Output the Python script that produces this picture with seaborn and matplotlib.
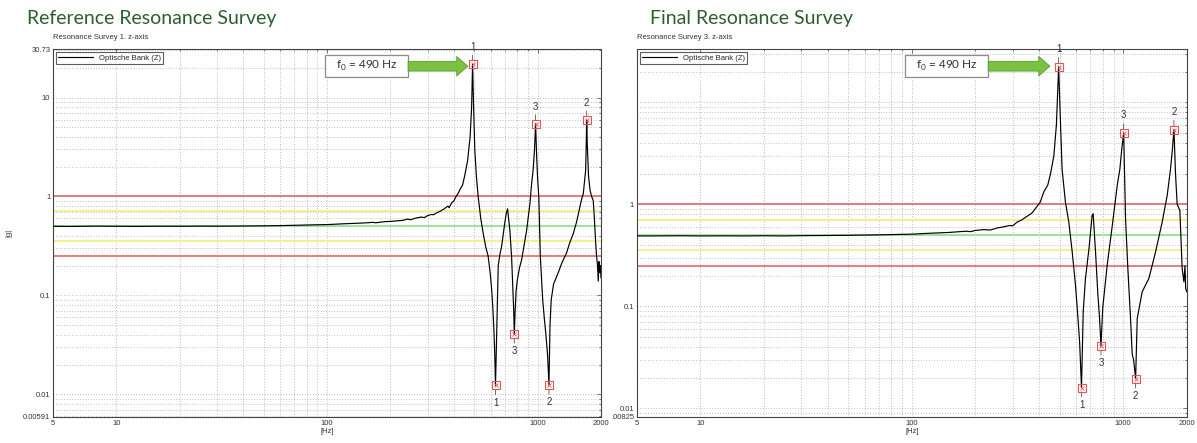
import numpy as np
import pandas as pd
import seaborn as sns
import matplotlib.pyplot as plt
from matplotlib.patches import Rectangle
from matplotlib.ticker import FixedLocator, FixedFormatter, LogLocator, NullFormatter

# --- survey 1 (reference) ---
ref_freq = [5, 6, 8, 10, 13, 16, 20, 25, 30, 40, 50, 60, 70, 80, 90, 100, 120, 150, 165, 170,
            180, 190, 200, 215, 230, 240, 250, 260, 280, 290, 300, 315, 320, 330, 345, 360, 375,
            380, 390, 400, 410, 420, 430, 440, 450, 465, 478, 486, 491, 496, 503, 512, 522,
            537, 552, 567, 582, 595, 604, 612, 620, 626, 631, 637, 643, 650, 662, 674, 687, 699,
            710, 720, 728, 738, 752, 762, 770, 775, 782, 790, 800, 820, 840, 862, 886, 905, 919,
            935, 953, 966, 978, 990, 1000, 1013, 1022, 1030, 1045, 1057, 1075, 1095, 1115, 1132,
            1145, 1160, 1190, 1231, 1253, 1300, 1373, 1420, 1476, 1530, 1588, 1620, 1647, 1670,
            1690, 1700, 1710, 1720, 1745, 1775, 1805, 1837, 1860, 1885, 1905, 1925, 1941, 1955,
            1970, 1985, 2000]
ref_amp = [0.50, 0.498, 0.502, 0.50, 0.499, 0.501, 0.50, 0.502, 0.501, 0.503, 0.505, 0.508,
           0.512, 0.515, 0.518, 0.52, 0.53, 0.54, 0.548, 0.542, 0.55, 0.558, 0.56, 0.568, 0.575,
           0.59, 0.583, 0.60, 0.62, 0.612, 0.64, 0.66, 0.652, 0.68, 0.71, 0.75, 0.80, 0.77,
           0.86, 0.90, 1.0, 1.08, 1.2, 1.3, 1.6, 2.3, 4.0, 8.0, 21.7, 9.0, 3.0, 1.6, 1.0,
           0.6, 0.42, 0.31, 0.25, 0.17, 0.12, 0.08, 0.045, 0.025, 0.0123, 0.03, 0.08, 0.2, 0.26,
           0.31, 0.42, 0.55, 0.68, 0.75, 0.6, 0.46, 0.25, 0.12, 0.07, 0.041, 0.07, 0.11, 0.14,
           0.19, 0.23, 0.32, 0.45, 0.65, 0.84, 1.3, 1.9, 2.9, 5.4, 2.5, 1.5, 1.0, 0.5, 0.25,
           0.14, 0.09, 0.06, 0.04, 0.025, 0.0125, 0.05, 0.09, 0.13, 0.155, 0.17, 0.21, 0.27,
           0.34, 0.42, 0.55, 0.78, 0.95, 1.06, 1.4, 1.82, 3.0, 5.9, 3.5, 1.6, 1.15, 1.0, 0.91,
           0.6, 0.35, 0.25, 0.2, 0.14, 0.22, 0.17, 0.2, 0.15]
ref_peak_f = [491, 1710, 978]
ref_peak_a = [21.7, 5.9, 5.4]
ref_dip_f = [631, 1132, 775]
ref_dip_a = [0.0123, 0.0125, 0.041]

# --- survey 3 (final) ---
fin_freq = [5, 6, 8, 10, 13, 16, 20, 25, 30, 40, 50, 60, 70, 80, 90, 100, 120, 150, 165, 180,
            190, 200, 220, 235, 254, 270, 290, 300, 315, 330, 350, 370, 392, 405, 421, 440, 453,
            470, 483, 495, 503, 514, 533, 553, 574, 595, 610, 622, 635, 647, 663, 689, 713, 721,
            740, 759, 772, 785, 800, 840, 888, 937, 964, 985, 1005, 1015, 1026, 1052, 1083,
            1103, 1120, 1145, 1165, 1230, 1323, 1422, 1529, 1615, 1675, 1710, 1738, 1768, 1800,
            1854, 1901, 1937, 1960, 1975, 2000]
fin_amp = [0.49, 0.49, 0.492, 0.49, 0.491, 0.49, 0.492, 0.49, 0.493, 0.495, 0.497, 0.50,
           0.502, 0.505, 0.508, 0.51, 0.52, 0.53, 0.538, 0.545, 0.54, 0.555, 0.565, 0.56, 0.587,
           0.60, 0.62, 0.615, 0.67, 0.70, 0.76, 0.82, 0.96, 1.05, 1.32, 1.55, 1.99, 3.0, 6.0,
           22.2, 8.0, 2.2, 1.05, 0.67, 0.34, 0.16, 0.08, 0.045, 0.016, 0.089, 0.188, 0.37,
           0.78, 0.81, 0.34, 0.13, 0.08, 0.041, 0.096, 0.254, 0.62, 1.53, 2.2, 3.5, 5.0, 2.0,
           0.72, 0.235, 0.077, 0.034, 0.03, 0.0196, 0.076, 0.139, 0.188, 0.34, 0.67, 1.22,
           2.23, 3.5, 5.4, 2.0, 1.0, 0.87, 0.235, 0.174, 0.25, 0.15, 0.139]
fin_peak_f = [495, 1738, 1005]
fin_peak_a = [22.2, 5.4, 5.0]
fin_dip_f = [635, 1145, 785]
fin_dip_a = [0.016, 0.0196, 0.041]

limit_levels = [1.0, 0.707, 0.5, 0.354, 0.25]
limit_colors = ['#e57373', '#f2ef86', '#93e293', '#f2ef86', '#e57373']

x_ticks = [5, 10, 100, 1000, 2000]
x_minor = [20, 30, 40, 50, 60, 70, 80, 90, 200, 300, 400, 500, 600, 700, 800, 900]
ref_yticks = [0.00591, 0.01, 0.1, 1, 10, 30.73]
ref_ylabels = ['0.00591', '0.01', '0.1', '1', '10', '30.73']
fin_yticks = [0.00825, 0.01, 0.1, 1]
fin_ylabels = ['.00825', '0.01', '0.1', '1']

sns.set_style('white')
plt.rcParams['font.family'] = ['Liberation Sans', 'DejaVu Sans']
plt.rcParams['mathtext.fontset'] = 'custom'
plt.rcParams['mathtext.rm'] = 'Lato'

fig = plt.figure(figsize=(11.97, 4.43), dpi=100)
ax1 = fig.add_axes([0.0443, 0.0587, 0.4578, 0.830])
ax2 = fig.add_axes([0.532, 0.0587, 0.4595, 0.830])


def draw_panel(ax, freq, amp, pk_f, pk_a, dp_f, dp_a, yticks, ylabels, ylim, box_x0, arrow_tip):
    df = pd.DataFrame({'f': freq, 'a': amp})
    ax.set_xscale('log')
    ax.set_yscale('log')
    for lev, col in zip(limit_levels, limit_colors):
        ax.axhline(lev, color=col, lw=1.3, zorder=2)
    sns.lineplot(data=df, x='f', y='a', ax=ax, color='black', lw=0.85, zorder=3,
                 label='Optische Bank (Z)')
    ax.plot(pk_f + dp_f, pk_a + dp_a, 's', mfc='none', mec='#e05555', ms=5.5, mew=0.8, zorder=4)
    ax.plot(pk_f + dp_f, pk_a + dp_a, 'x', color='#e05555', ms=3, mew=0.6, zorder=4)
    for i, (f, a) in enumerate(zip(pk_f, pk_a)):
        ax.annotate(str(i + 1), xy=(f, a), xytext=(0, 9), textcoords='offset points',
                    ha='center', va='bottom', fontsize=7, color='#333333',
                    arrowprops=dict(arrowstyle='-', color='#555555', lw=0.6,
                                    shrinkA=0, shrinkB=3))
    for i, (f, a) in enumerate(zip(dp_f, dp_a)):
        ax.annotate(str(i + 1), xy=(f, a), xytext=(0, -9), textcoords='offset points',
                    ha='center', va='top', fontsize=7, color='#333333',
                    arrowprops=dict(arrowstyle='-', color='#555555', lw=0.6,
                                    shrinkA=0, shrinkB=3))

    ax.set_xlim(5, 2000)
    ax.set_ylim(*ylim)
    ax.xaxis.set_major_locator(FixedLocator(x_ticks))
    ax.xaxis.set_major_formatter(FixedFormatter([str(t) for t in x_ticks]))
    ax.xaxis.set_minor_locator(FixedLocator(x_minor))
    ax.xaxis.set_minor_formatter(NullFormatter())
    ax.yaxis.set_major_locator(FixedLocator(yticks))
    ax.yaxis.set_major_formatter(FixedFormatter(ylabels))
    ax.yaxis.set_minor_locator(LogLocator(base=10, subs=np.arange(1, 10)))
    ax.yaxis.set_minor_formatter(NullFormatter())
    ax.tick_params(which='both', direction='in', top=True, right=True, labelsize=5.5,
                   labelcolor='#333333', color='#444444', width=0.5, pad=2)
    ax.tick_params(which='major', length=3)
    ax.tick_params(which='minor', length=1.5)
    ax.grid(True, which='both', ls=(0, (1, 2.5)), color='#9a9a9a', lw=0.55)
    for s in ax.spines.values():
        s.set_color('#444444')
        s.set_linewidth(0.8)
    ax.set_xlabel('[Hz]', fontsize=5.5, color='#333333', labelpad=1)
    ax.set_ylabel('')
    leg = ax.legend(loc='upper left', fontsize=5.5, frameon=True, fancybox=False,
                    edgecolor='#333333', borderaxespad=0.4, handlelength=4.5,
                    borderpad=0.3)
    leg.get_frame().set_linewidth(0.8)

    ax.add_patch(Rectangle((box_x0, 0.924), 0.152, 0.06, transform=ax.transAxes,
                           fc='white', ec='#8c8c8c', lw=0.9, zorder=6))
    ax.text(box_x0 + 0.076, 0.954, r'f$_0$ = 490 Hz', transform=ax.transAxes,
            ha='center', va='center', fontsize=8.5, family='Lato', color='#333333', zorder=7)
    ax.annotate('', xy=(arrow_tip, 0.954), xytext=(box_x0 + 0.152, 0.954),
                xycoords='axes fraction',
                arrowprops=dict(arrowstyle='simple,head_length=0.8,head_width=1.4,tail_width=0.7',
                                fc='#7cc242', ec='#5b9a30', lw=0.6, shrinkA=0, shrinkB=0,
                                mutation_scale=10), zorder=6)


draw_panel(ax1, ref_freq, ref_amp, ref_peak_f, ref_peak_a, ref_dip_f, ref_dip_a,
           ref_yticks, ref_ylabels, (0.00591, 30.73), 0.496, 0.757)
draw_panel(ax2, fin_freq, fin_amp, fin_peak_f, fin_peak_a, fin_dip_f, fin_dip_a,
           fin_yticks, fin_ylabels, (0.00825, 33), 0.487, 0.751)

ax1.set_ylabel('|g|', fontsize=5.5, color='#333333')
ax1.yaxis.set_label_coords(-0.075, 0.5)

fig.text(0.0226, 0.959, 'Reference Resonance Survey', fontsize=14, color='#2d5e2e',
         family='Lato', va='center')
fig.text(0.543, 0.959, 'Final Resonance Survey', fontsize=14, color='#2d5e2e',
         family='Lato', va='center')
fig.text(0.0443, 0.916, 'Resonance Survey 1. z-axis', fontsize=5.5, color='#333333',
         va='center')
fig.text(0.532, 0.916, 'Resonance Survey 3. z-axis', fontsize=5.5, color='#333333',
         va='center')

fig.savefig('out.png', dpi=100)
